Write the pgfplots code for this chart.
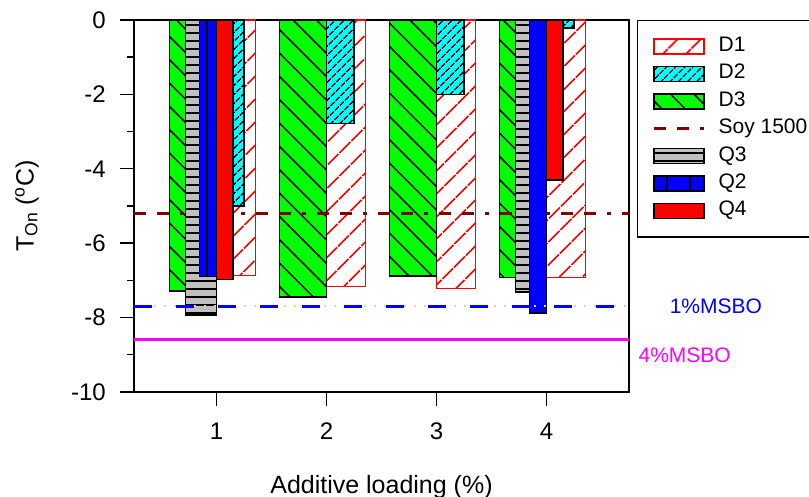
\documentclass[border=0pt]{standalone}
\usepackage{fontspec}
\setmainfont{Liberation Sans}
\usepackage{pgfplots}
\pgfplotsset{compat=1.18}
\usetikzlibrary{patterns.meta}
\definecolor{soy}{HTML}{800000}
\definecolor{qgray}{HTML}{C0C0C0}
\definecolor{dotc}{HTML}{D8D8A8}
\definecolor{cRed}{HTML}{FF0000}
\definecolor{cCyan}{HTML}{00FFFF}
\definecolor{cGreen}{HTML}{00FF00}
\definecolor{cBlue}{HTML}{0000FF}
\definecolor{cMag}{HTML}{FF00FF}
\pgfplotsset{
  barleg/.style={legend image code/.code={\draw[##1] (0pt,-7.5pt) rectangle (50pt,7.5pt);}},
  lineleg/.style={legend image code/.code={\draw[##1] (0pt,0pt) -- (50pt,0pt);}},
}
\begin{document}
\begin{tikzpicture}
\useasboundingbox (-134pt,-105pt) rectangle (675pt,392pt);
\begin{axis}[
  at={(0pt,0pt)}, anchor=south west,
  scale only axis, width=495pt, height=372pt,
  xmin=0.25, xmax=4.75, ymin=-10, ymax=0,
  xtick={1,2,3,4}, ytick={-10,-8,-6,-4,-2,0},
  minor y tick num=1,
  tick align=outside, tick pos=left,
  major tick length=14pt, minor tick length=7pt,
  axis line style={line width=1.4pt, black},
  tick style={line width=1.4pt, black},
  /pgf/number format/assume math mode=true,
  tick label style={font=\fontsize{24}{28}\selectfont},
  xticklabel style={anchor=north, inner sep=0pt, yshift=-17pt},
  yticklabel style={anchor=east, inner sep=0pt, xshift=-14pt},
  xlabel={Additive loading (\%)},
  ylabel={T\textsubscript{On} (\textsuperscript{o}C)},
  every axis x label/.style={at={(axis description cs:0.5,-0.255)}, anchor=center, font=\fontsize{25}{30}\selectfont},
  every axis y label/.style={at={(axis description cs:-0.216,0.5)}, anchor=center, rotate=90, font=\fontsize{25}{30}\selectfont},
  clip=false,
  legend style={at={(axis description cs:1.0162,1)}, anchor=north west, draw=black, line width=1.2pt,
    font=\fontsize{21}{25}\selectfont, inner xsep=15pt, inner ysep=16pt, row sep=7.4pt, column sep=13pt,
    nodes={inner sep=0pt, text height=15pt, text depth=5pt}},
  legend cell align=left,
]
% D1
\addplot[ybar, bar width=0.355, bar shift=0.1775, draw=cRed, line width=1.4pt, fill=white,
  postaction={pattern color=cRed, pattern={Lines[angle=45,distance=17pt,line width=2pt]}}, barleg]
  coordinates {(1,-6.87) (2,-7.17) (3,-7.22) (4,-6.92)};
\addlegendentry{D1}
% D2
\addplot[ybar, bar width=0.251, bar shift=0.1255, draw=black, line width=1.4pt, fill=cCyan,
  postaction={pattern color=black, pattern={Lines[angle=45,distance=6.4pt,line width=1.4pt]}}, barleg]
  coordinates {(1,-5.0) (2,-2.78) (3,-2.0) (4,-0.22)};
\addlegendentry{D2}
% D3
\addplot[ybar, bar width=0.425, bar shift=-0.2125, draw=black, line width=1.4pt, fill=cGreen,
  postaction={pattern color=black, pattern={Lines[angle=-45,distance=16.5pt,line width=1.5pt]}}, barleg]
  coordinates {(1,-7.28) (2,-7.45) (3,-6.88) (4,-6.92)};
\addlegendentry{D3}
% Soy 1500
\addplot[soy, line width=3pt, dash pattern=on 12pt off 11pt on 12pt off 11pt on 4pt off 11pt, lineleg]
  coordinates {(0.25,-5.2) (4.75,-5.2)};
\addlegendentry{Soy 1500}
% Q3
\addplot[ybar, bar width=0.28, bar shift=-0.14, draw=black, line width=1.4pt, fill=qgray,
  postaction={pattern color=black, pattern={Lines[angle=0,distance=8pt,line width=1.3pt]}}, barleg]
  coordinates {(1,-7.93) (4,-7.31)};
\addlegendentry{Q3}
% Q2
\addplot[ybar, bar width=0.152, bar shift=-0.076, draw=black, line width=1.4pt, fill=cBlue,
  postaction={pattern color=black, pattern={Lines[angle=90,distance=23pt,line width=1.4pt]}}, barleg]
  coordinates {(1,-6.90) (4,-7.88)};
\addlegendentry{Q2}
% Q4
\addplot[ybar, bar width=0.151, bar shift=0.0755, draw=black, line width=1.4pt, fill=cRed, barleg]
  coordinates {(1,-6.97) (4,-4.30)};
\addlegendentry{Q4}
% MSBO reference lines
\addplot[forget plot, dotc, line width=2pt, dash pattern=on 2pt off 8pt] coordinates {(0.25,-7.7) (4.75,-7.7)};
\addplot[forget plot, cBlue, line width=3pt, dash pattern=on 18pt off 24pt] coordinates {(0.25,-7.7) (4.75,-7.7)};
\addplot[forget plot, cMag, line width=3pt] coordinates {(0.25,-8.58) (4.75,-8.58)};
\node[cBlue, font=\fontsize{21}{25}\selectfont] at (axis cs:5.54,-7.7) {1\%MSBO};
\node[cMag, anchor=west, font=\fontsize{21}{25}\selectfont] at (axis cs:4.805,-9.0) {4\%MSBO};
\end{axis}
\end{tikzpicture}
\end{document}
